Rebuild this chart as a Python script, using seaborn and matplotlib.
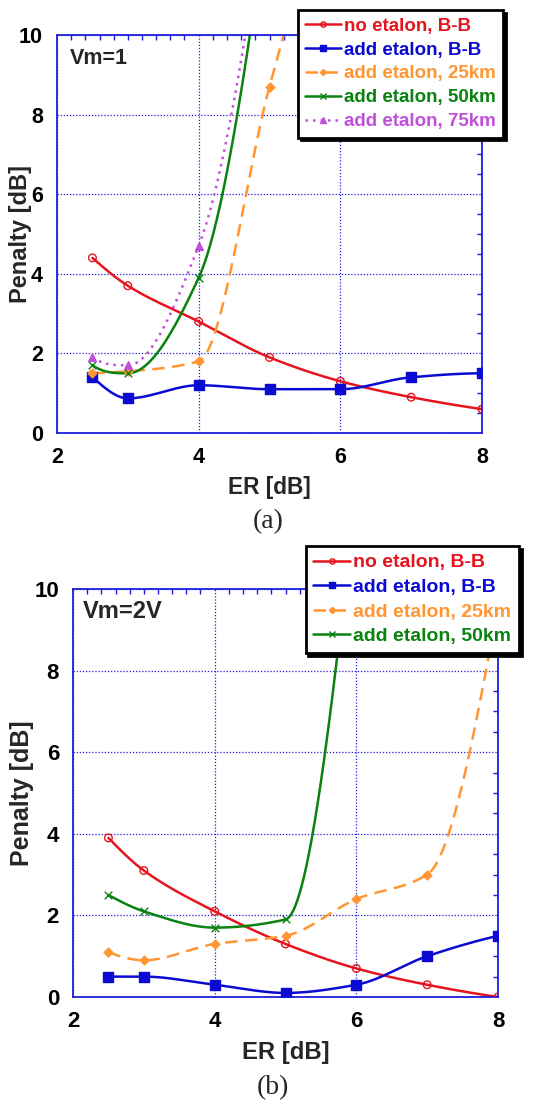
import numpy as np
import pandas as pd
import matplotlib
matplotlib.use("Agg")
import matplotlib.pyplot as plt
from matplotlib.lines import Line2D
from matplotlib.ticker import MultipleLocator
import seaborn as sns

# ---------------- data ----------------
er_db = [2.5, 3, 4, 5, 6, 7, 8]

# (a) Vm = 1
a_no_etalon_bb = [4.4, 3.7, 2.8, 1.9, 1.3, 0.9, 0.6]
a_etalon_bb = [1.4, 0.87, 1.2, 1.1, 1.1, 1.4, 1.5]
a_er_25km = [2.5, 3, 4, 5, 6]
a_etalon_25km = [1.5, 1.55, 1.8, 8.7, 15.0]
a_er_50km = [2.5, 3, 4, 5]
a_etalon_50km = [1.7, 1.5, 3.9, 13.5]
a_er_75km = [2.5, 3, 4, 5]
a_etalon_75km = [1.9, 1.7, 4.7, 14.0]

# (b) Vm = 2 V
b_no_etalon_bb = [3.9, 3.1, 2.1, 1.3, 0.7, 0.3, 0.0]
b_etalon_bb = [0.5, 0.5, 0.3, 0.1, 0.3, 1.0, 1.5]
b_etalon_25km = [1.1, 0.9, 1.3, 1.5, 2.4, 3.0, 9.6]
b_er_50km = [2.5, 3, 4, 5, 6]
b_etalon_50km = [2.5, 2.1, 1.7, 1.9, 12.5]

labels = ["no etalon, B-B", "add etalon, B-B", "add etalon, 25km",
          "add etalon, 50km", "add etalon, 75km"]

# ---------------- styles ----------------
RED, BLUE, ORANGE, GREEN, PURPLE = "#e6141e", "#0a0ad2", "#ff9632", "#0a820f", "#c050dc"
AXBLUE = "#1e1edc"
styles = {
    labels[0]: dict(color=RED, ls="-", marker="o", ms=5.5, mfc="none"),
    labels[1]: dict(color=BLUE, ls="-", marker="s", ms=6.8, mfc=BLUE),
    labels[2]: dict(color=ORANGE, ls=(0, (5, 3)), marker="D", ms=4.5, mfc=ORANGE),
    labels[3]: dict(color=GREEN, ls="-", marker="x", ms=5.5, mfc=GREEN),
    labels[4]: dict(color=PURPLE, ls=(0, (1, 2)), marker="^", ms=5.5, mfc=PURPLE),
}

sns.set_style("white")
plt.rcParams["font.family"] = ["Liberation Sans", "DejaVu Sans"]
plt.rcParams["font.weight"] = "bold"


def pchip_curve(x, y, n=400):
    """Shape-preserving piecewise cubic Hermite curve through the points."""
    x = np.asarray(x, float)
    y = np.asarray(y, float)
    h = np.diff(x)
    delta = np.diff(y) / h
    k = len(x)
    m = np.zeros(k)
    if k == 2:
        m[:] = delta[0]
    else:
        for i in range(1, k - 1):
            if delta[i - 1] * delta[i] <= 0:
                m[i] = 0.0
            else:
                w1 = 2 * h[i] + h[i - 1]
                w2 = h[i] + 2 * h[i - 1]
                m[i] = (w1 + w2) / (w1 / delta[i - 1] + w2 / delta[i])

        def end_slope(h0, h1, d0, d1):
            s = ((2 * h0 + h1) * d0 - h0 * d1) / (h0 + h1)
            if np.sign(s) != np.sign(d0):
                s = 0.0
            elif np.sign(d0) != np.sign(d1) and abs(s) > abs(3 * d0):
                s = 3 * d0
            return s

        m[0] = end_slope(h[0], h[1], delta[0], delta[1])
        m[-1] = end_slope(h[-1], h[-2], delta[-1], delta[-2])
    xs = np.linspace(x[0], x[-1], n)
    idx = np.clip(np.searchsorted(x, xs) - 1, 0, k - 2)
    t = (xs - x[idx]) / h[idx]
    h00 = 2 * t ** 3 - 3 * t ** 2 + 1
    h10 = t ** 3 - 2 * t ** 2 + t
    h01 = -2 * t ** 3 + 3 * t ** 2
    h11 = t ** 3 - t ** 2
    ys = (h00 * y[idx] + h10 * h[idx] * m[idx]
          + h01 * y[idx + 1] + h11 * h[idx] * m[idx + 1])
    return xs, ys


def draw_series(ax, x, y, label):
    st = styles[label]
    xs, ys = pchip_curve(x, y)
    curve = pd.DataFrame({"ER": xs, "Penalty": ys})
    sns.lineplot(data=curve, x="ER", y="Penalty", ax=ax, color=st["color"],
                 linestyle=st["ls"], linewidth=1.8, sort=False, estimator=None)
    pts = pd.DataFrame({"ER": x, "Penalty": y})
    if st["marker"] == "x":
        sns.scatterplot(data=pts, x="ER", y="Penalty", ax=ax, marker="x",
                        color=st["color"], s=st["ms"] ** 2, linewidth=1.0, zorder=5)
    else:
        sns.scatterplot(data=pts, x="ER", y="Penalty", ax=ax, marker=st["marker"],
                        s=st["ms"] ** 2, facecolor=st["mfc"], edgecolor=st["color"],
                        linewidth=1.0, zorder=5)


def style_axes(ax, ylab_x, tick_fs, xlab_fs, ylab_fs):
    ax.set_xlim(2, 8)
    ax.set_ylim(0, 10)
    ax.xaxis.set_major_locator(MultipleLocator(2))
    ax.xaxis.set_minor_locator(MultipleLocator(0.2))
    ax.yaxis.set_major_locator(MultipleLocator(2))
    ax.yaxis.set_minor_locator(MultipleLocator(0.5))
    ax.grid(True, which="major", color=AXBLUE, linestyle=(0, (1, 1.5)), linewidth=0.9)
    for sp in ax.spines.values():
        sp.set_color(AXBLUE)
        sp.set_linewidth(1.3)
        sp.set_visible(True)
    ax.tick_params(which="both", direction="in", top=True, right=True,
                   color=AXBLUE, labelsize=tick_fs, labelcolor="black")
    ax.tick_params(which="major", length=0, pad=10)
    ax.tick_params(which="minor", length=3.5, width=1.0)
    for t in ax.get_xticklabels() + ax.get_yticklabels():
        t.set_fontweight("bold")
    ax.set_xlabel("ER [dB]", fontsize=xlab_fs, fontweight="bold", va="center")
    ax.set_ylabel("Penalty [dB]", fontsize=ylab_fs, fontweight="bold",
                  va="center", ha="center")
    ax.xaxis.set_label_coords(0.5, -0.136)
    ax.yaxis.set_label_coords(ylab_x, 0.5)


def add_legend(ax, names, anchor, fs):
    handles = []
    for nm in names:
        st = styles[nm]
        handles.append(Line2D([0], [0], color=st["color"], linestyle=st["ls"], linewidth=1.8,
                              marker=st["marker"], markersize=st["ms"] * 0.7,
                              markerfacecolor=st["mfc"], markeredgecolor=st["color"]))
    leg = ax.legend(handles, names, loc="upper right", bbox_to_anchor=anchor,
                    bbox_transform=fig.transFigure, frameon=True, fancybox=False,
                    shadow={"facecolor": "black", "edgecolor": "black", "alpha": 1.0},
                    framealpha=1, edgecolor="black", numpoints=1,
                    prop={"weight": "bold", "size": fs}, handlelength=1.9,
                    handletextpad=0.15, labelspacing=0.36, borderpad=0.4,
                    borderaxespad=0)
    leg.get_frame().set_linewidth(2.0)
    for txt, nm in zip(leg.get_texts(), names):
        txt.set_color(styles[nm]["color"])
    leg.set_zorder(20)
    return leg


fig = plt.figure(figsize=(5.52, 11.0), dpi=100)

# ---------------- panel (a) ----------------
ax1 = fig.add_axes([57 / 552, 1 - 433 / 1100, 425 / 552, 398 / 1100])
draw_series(ax1, er_db, a_no_etalon_bb, labels[0])
draw_series(ax1, er_db, a_etalon_bb, labels[1])
draw_series(ax1, a_er_25km, a_etalon_25km, labels[2])
draw_series(ax1, a_er_50km, a_etalon_50km, labels[3])
draw_series(ax1, a_er_75km, a_etalon_75km, labels[4])
style_axes(ax1, -0.087, 15.5, 16.3, 17)
ax1.text(0.031, 0.942, "Vm=1", transform=ax1.transAxes, fontsize=15.5,
         fontweight="bold", ha="left", va="center")
add_legend(ax1, labels, (503 / 552, 1 - 10 / 1100), 13.5)
fig.text(268 / 552, 1 - 522 / 1100, "(a)", family="Liberation Serif",
         fontweight="normal", fontsize=20, ha="center", va="center")

# ---------------- panel (b) ----------------
ax2 = fig.add_axes([73 / 552, 1 - 997 / 1100, 425 / 552, 408 / 1100])
draw_series(ax2, er_db, b_no_etalon_bb, labels[0])
draw_series(ax2, er_db, b_etalon_bb, labels[1])
draw_series(ax2, er_db, b_etalon_25km, labels[2])
draw_series(ax2, b_er_50km, b_etalon_50km, labels[3])
style_axes(ax2, -0.121, 16, 17.2, 18)
ax2.text(0.024, 0.944, "Vm=2V", transform=ax2.transAxes, fontsize=17,
         fontweight="bold", ha="left", va="center")
add_legend(ax2, labels[:4], (519 / 552, 1 - 546 / 1100), 14)
fig.text(273 / 552, 1 - 1088 / 1100, "(b)", family="Liberation Serif",
         fontweight="normal", fontsize=20, ha="center", va="center")

fig.savefig("out.png", dpi=100, facecolor="white")
